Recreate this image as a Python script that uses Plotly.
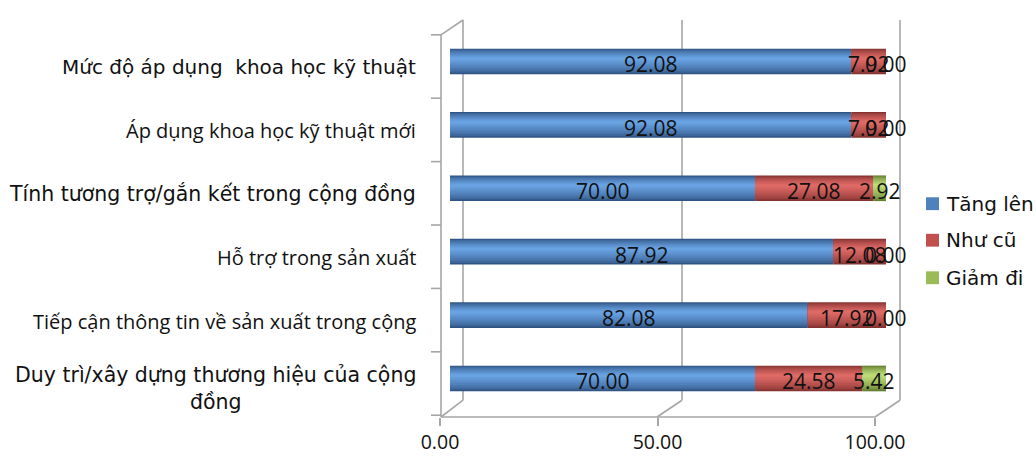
import plotly.graph_objects as go

# Survey categories (top to bottom) and shares per response, in percent
categories = [
    "Mức độ áp dụng  khoa học kỹ thuật",
    "Áp dụng khoa học kỹ thuật mới",
    "Tính tương trợ/gắn kết trong cộng đồng",
    "Hỗ trợ trong sản xuất",
    "Tiếp cận thông tin về sản xuất trong cộng",
    "Duy trì/xây dựng thương hiệu của cộng<br>đồng",
]
series_names = ["Tăng lên", "Như cũ", "Giảm đi"]
tang_len = [92.08, 92.08, 70.00, 87.92, 82.08, 70.00]
nhu_cu = [7.92, 7.92, 27.08, 12.08, 17.92, 24.58]
giam_di = [0.00, 0.00, 2.92, 0.00, 0.00, 5.42]
x_ticks = [0, 50, 100]
x_tick_labels = ["0.00", "50.00", "100.00"]

series_values = [tang_len, nhu_cu, giam_di]

W, H = 1036, 467
PL, PR, PT, PB = 440, 900, 20, 422  # plot area in pixels


def px(x):
    return (x - PL) / (PR - PL)


def py(y):
    return (PB - y) / (PB - PT)


# cylinder shading: dark edge -> light highlight, plus flat legend colour
palette = [
    ("#2f5484", "#6aa3e3", "#4F81BD"),
    ("#853331", "#de6a66", "#C0504D"),
    ("#647f32", "#bcdc78", "#9BBB59"),
]


def mix(c1, c2, t):
    a = [int(c1[i:i + 2], 16) for i in (1, 3, 5)]
    b = [int(c2[i:i + 2], 16) for i in (1, 3, 5)]
    return "#%02x%02x%02x" % tuple(round(a[i] + (b[i] - a[i]) * t) for i in range(3))


y_idx = list(range(len(categories)))
bar_w = 0.405
hl = 0.12 * bar_w  # highlight above the centre
n_layers = 10

fig = go.Figure()

bases = []
for s, vals in enumerate(series_values):
    base = [sum(series_values[k][i] for k in range(s)) for i in range(len(vals))]
    bases.append(base)
    dark, light, _ = palette[s]
    for k in range(n_layers):
        f = 1 - k / n_layers
        top = hl + f * (bar_w / 2 - hl)
        bot = hl - f * (hl + bar_w / 2)
        t = (k / (n_layers - 1)) ** 0.7
        fig.add_trace(go.Bar(
            y=y_idx, x=vals, base=base, orientation="h",
            width=top - bot, offset=-top,
            marker=dict(color=mix(dark, light, t), line=dict(width=0)),
            hoverinfo="skip", showlegend=False,
        ))

# invisible trace that carries the front tick axis
fig.add_trace(go.Scatter(x=[0, 100], y=[0, 0], xaxis="x2", yaxis="y",
                         mode="markers", marker=dict(opacity=0),
                         hoverinfo="skip", showlegend=False))

grey = "#a6a6a6"
lw = 1.6
frame = [
    (441, 35, 441, 422), (441, 35, 463, 20),
    (463, 20, 463, 405), (682, 20, 682, 405), (900, 20, 900, 405),
    (441, 422, 875, 422),
    (441, 422, 463, 405), (657, 422, 682, 405), (875, 422, 900, 405),
]
for i in range(7):
    yy = 35 + 64.2 * i
    frame.append((431, yy, 441, yy))
shapes = [
    dict(type="line", xref="paper", yref="paper",
         x0=px(a), y0=py(b), x1=px(c), y1=py(d),
         line=dict(color=grey, width=lw), layer="below")
    for a, b, c, d in frame
]

# legend swatches
leg_y = [206, 243, 281]
for s in range(3):
    shapes.append(dict(type="rect", xref="paper", yref="paper",
                       x0=px(926), x1=px(939), y0=py(leg_y[s] - 6.5), y1=py(leg_y[s] + 6.5),
                       fillcolor=palette[s][2], line=dict(width=0)))

annotations = []

# value labels centred on each segment
for s, vals in enumerate(series_values):
    for i, v in enumerate(vals):
        annotations.append(dict(
            text="%.2f" % v, xref="x", yref="y", x=bases[s][i] + v / 2, y=i,
            xanchor="center", yanchor="middle", showarrow=False, yshift=-3,
            font=dict(family="Open Sans", size=21, color="#111111"),
        ))

label_fonts = {
    0: ("DejaVu Sans", 20),
    1: ("Open Sans", 20),
    2: ("DejaVu Sans", 20.5),
    3: ("Open Sans", 20),
    4: ("Open Sans", 20),
    5: ("DejaVu Sans", 20.5),
}
for i, c in enumerate(categories):
    fam, size = label_fonts[i]
    annotations.append(dict(
        text=c, xref="paper", yref="y", x=px(418), y=i,
        xanchor="right", yanchor="middle", showarrow=False, align="center",
        yshift=-10 if i == 5 else -6,
        font=dict(family=fam, size=size, color="#111111"),
    ))
for s in range(3):
    annotations.append(dict(
        text=series_names[s], xref="paper", yref="paper",
        x=px(944), y=py(leg_y[s]), xanchor="left", yanchor="middle",
        showarrow=False, font=dict(family="DejaVu Sans", size=20, color="#111111"),
    ))

px_per_unit = 4.36
zero_px = 450
fig.update_layout(
    width=W, height=H,
    margin=dict(l=PL, r=W - PR, t=PT, b=H - PB, pad=0),
    barmode="overlay",
    paper_bgcolor="white", plot_bgcolor="rgba(0,0,0,0)",
    showlegend=False,
    xaxis=dict(range=[(PL - zero_px) / px_per_unit, (PR - zero_px) / px_per_unit],
               showgrid=False, zeroline=False, showticklabels=False, ticks="",
               showline=False),
    xaxis2=dict(overlaying="x", anchor="y", side="bottom",
                range=[0, (PR - PL) / 4.35], tickvals=x_ticks, ticktext=x_tick_labels,
                ticks="outside", ticklen=8, tickcolor=grey, tickwidth=lw,
                showgrid=False, zeroline=False, showline=False,
                tickfont=dict(family="Open Sans", size=19.5, color="#111111")),
    yaxis=dict(range=[5 + (PB - 383) / 64.2, -(62 - PT) / 64.2],
               showgrid=False, zeroline=False, showticklabels=False, ticks="",
               showline=False),
    shapes=shapes, annotations=annotations,
)

fig.write_html("out.html")
